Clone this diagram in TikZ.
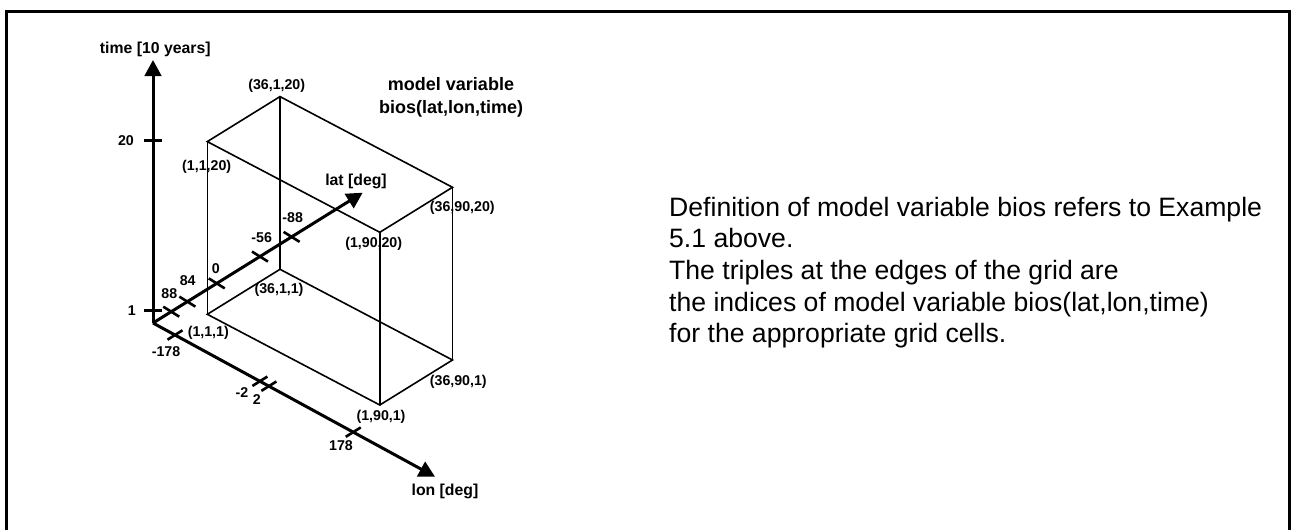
\documentclass[tikz,border=0pt]{standalone}
\usepackage{fontspec}
\setmainfont{Liberation Sans}
\usetikzlibrary{arrows.meta,calc}

\begin{document}
\begin{tikzpicture}[x=1pt,y=-1pt,
  axis/.style={line width=3pt, -{Triangle[length=16pt,width=16.5pt]}},
  edge/.style={line width=1.6pt, line cap=round, line join=miter},
  tick/.style={line width=2.6pt},
  lbl/.style={font=\fontsize{14.2}{16}\selectfont\bfseries, inner sep=0pt},
  axlbl/.style={font=\fontsize{15.8}{18}\selectfont\bfseries, inner sep=0pt},
  ttl/.style={font=\fontsize{18}{23.5}\selectfont\bfseries, inner sep=0pt, align=center},
  note/.style={font=\fontsize{26.6}{30}\selectfont, inner sep=0pt, anchor=base west},
]
\useasboundingbox (0,0) rectangle (1291,530);

% outer frame
\draw[line width=3pt] (6.5,530) -- (6.5,11) -- (1289.5,11) -- (1289.5,530);

% axes end points
\coordinate (O) at (153,323);
\coordinate (T) at (153,60);
\coordinate (La) at (362.7,192.7);
\coordinate (Lo) at (435,476.7);

% grid box corners (lat,lon,time)
\coordinate (p111)   at (207.3,314.3);
\coordinate (p3611)  at (280,269.3);
\coordinate (p1901)  at (379.8,405);
\coordinate (p36901) at (452.5,360);
\coordinate (p1120)   at (207.3,141.6);
\coordinate (p36120)  at (280,96.6);
\coordinate (p19020)  at (379.8,232.3);
\coordinate (p369020) at (452.5,187.3);

% corner labels
\node[lbl] (l36120)  at (276.7,86)    {(36,1,20)};
\node[lbl] (l1120)   at (206.7,166.7) {(1,1,20)};
\node[lbl] (l369020) at (462.3,208.3) {(36,90,20)};
\node[lbl] (l19020)  at (373.7,244)   {(1,90,20)};
\node[lbl] (l3611)   at (279,290)     {(36,1,1)};
\node[lbl] (l111)    at (208.3,333)   {(1,1,1)};
\node[lbl] (l36901)  at (458.3,381.7) {(36,90,1)};
\node[lbl] (l1901)   at (381,416.7)   {(1,90,1)};

% wireframe of the grid
\draw[edge] (p111) -- (p3611) -- (p36901) -- (p1901) -- cycle;
\draw[edge] (p1120) -- (p36120) -- (p369020) -- (p19020) -- cycle;
\draw[edge] (p111) -- (p1120);
\draw[edge] (p3611) -- (p36120);
\draw[edge] (p1901) -- (p19020);
\draw[edge] (p36901) -- (p369020);

% axes
\draw[axis] (O) -- (T);
\draw[axis] (O) -- (La);
\draw[axis] (O) -- (Lo);

% time ticks
\foreach \t/\n in {0.693/t20, 0.047/t1}{
  \coordinate (\n) at ($(O)!\t!(T)$);
  \draw[tick] ($(\n)+(-9,0)$) -- ($(\n)+(9,0)$);
}
% lat ticks
\foreach \t/\n in {0.087/a88, 0.164/a84, 0.304/a0, 0.510/am56, 0.661/am88}{
  \coordinate (\n) at ($(O)!\t!(La)$);
  \draw[tick] ($(\n)+(-8,-5)$) -- ($(\n)+(8,5)$);
}
% lon ticks
\foreach \t/\n in {0.078/om178, 0.379/om2, 0.411/o2, 0.710/o178}{
  \coordinate (\n) at ($(O)!\t!(Lo)$);
  \draw[tick] ($(\n)+(-7.5,4.7)$) -- ($(\n)+(7.5,-4.7)$);
}

% tick labels
\node[lbl] (n20)   at (126,141)     {20};
\node[lbl] (n1)    at (131.7,311)   {1};
\node[lbl] (n88)   at (169.3,293.3) {88};
\node[lbl] (n84)   at (187.7,280.7) {84};
\node[lbl] (n0)    at (215.7,268.3) {0};
\node[lbl] (nm56)  at (261.7,237.3) {-56};
\node[lbl] (nm88)  at (292.7,217.3) {-88};
\node[lbl] (nm178) at (166,351.7)   {-178};
\node[lbl] (nm2)   at (242,392.3)   {-2};
\node[lbl] (n2)    at (256.7,400)   {2};
\node[lbl] (n178)  at (341,446)     {178};

% axis titles
\node[axlbl] (tt)  at (155.3,49.3) {time [10 years]};
\node[axlbl] (lat) at (356,181.7)  {lat [deg]};
\node[axlbl] (lon) at (445,491.7)  {lon [deg]};

% variable title
\node[ttl] (var) at (451,97.5) {model variable\\bios(lat,lon,time)};

% explanatory text
\node[note] (d1) at (669,216)   {Definition of model variable bios refers to Example};
\node[note] (d2) at (669,247.7) {5.1 above.};
\node[note] (d3) at (669,279.4) {The triples at the edges of the grid are};
\node[note] (d4) at (669,311.1) {the indices of model variable bios(lat,lon,time)};
\node[note] (d5) at (669,342.8) {for the appropriate grid cells.};
\end{tikzpicture}
\end{document}
